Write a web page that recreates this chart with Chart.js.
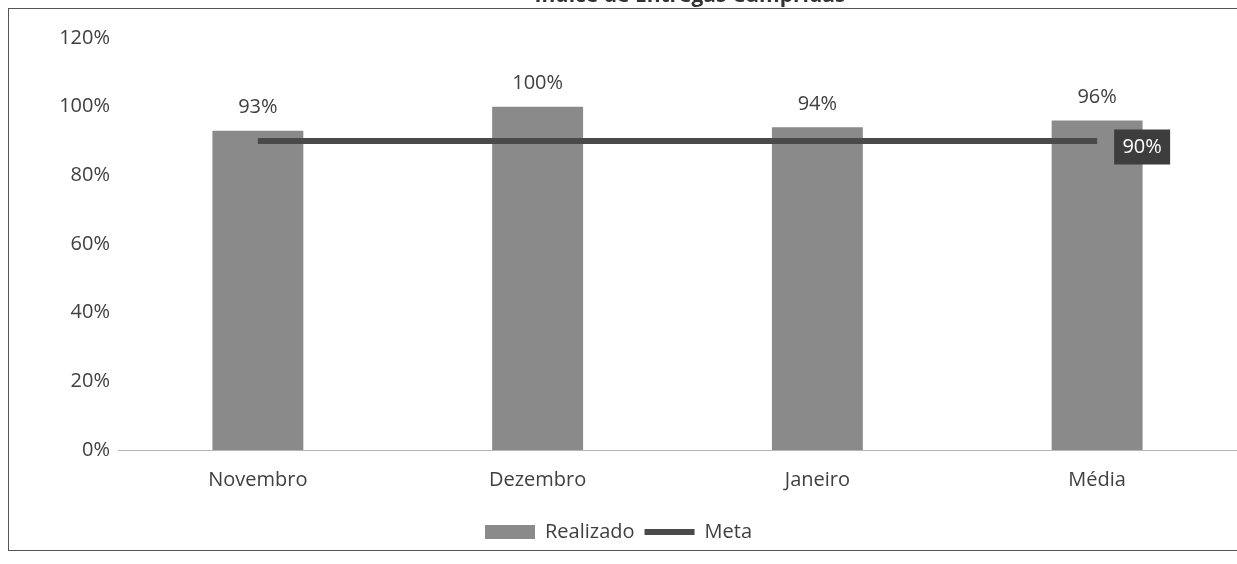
<!DOCTYPE html>
<html>
<head>
<meta charset="utf-8">
<script src="https://cdn.jsdelivr.net/npm/chart.js@4"></script>
<style>
  html, body { margin: 0; padding: 0; background: #fff; }
  #wrap { position: relative; width: 1237px; height: 564px; overflow: hidden; }
  #frame { position: absolute; left: 8px; top: 8px; width: 1240px; height: 543px; border: 1px solid #555; border-right: none; box-sizing: border-box; pointer-events: none; }
</style>
</head>
<body>
<div id="wrap">
  <canvas id="myChart" width="1237" height="564"></canvas>
  <div id="frame"></div>
</div>
<script>
const ctx = document.getElementById('myChart').getContext('2d');

// Dados do gráfico
const categorias = ['Novembro', 'Dezembro', 'Janeiro', 'Média'];
const realizado = [0.93, 1.00, 0.94, 0.96];
const meta = [0.90, 0.90, 0.90, 0.90];
const tituloGrafico = 'Índice de Entregas Cumpridas';

const fonte = "'Open Sans', 'DejaVu Sans', sans-serif";
const corTexto = '#404040';

// Título (cortado no topo, como no original)
const tituloPlugin = {
    id: 'tituloCortado',
    afterDraw(chart) {
        const c = chart.ctx;
        c.save();
        c.font = 'bold 21px ' + fonte;
        c.fillStyle = '#333';
        c.textAlign = 'center';
        c.textBaseline = 'alphabetic';
        c.fillText(tituloGrafico, 690, 2);
        c.restore();
    }
};

// Rótulos de valores
const rotulosPlugin = {
    id: 'rotulos',
    afterDatasetsDraw(chart) {
        const c = chart.ctx;
        c.save();
        c.font = '20px ' + fonte;
        c.textAlign = 'center';
        c.textBaseline = 'middle';

        // barras
        const barras = chart.getDatasetMeta(0).data;
        barras.forEach((bar, i) => {
            c.fillStyle = corTexto;
            c.fillText(Math.round(realizado[i] * 100) + '%', bar.x, bar.y - 23);
        });

        // último ponto da meta
        const pontos = chart.getDatasetMeta(1).data;
        const ultimo = pontos[pontos.length - 1];
        const txt = Math.round(meta[meta.length - 1] * 100) + '%';
        const bx = ultimo.x + 17, bw = 56, bh = 35;
        c.fillStyle = '#3d3d3d';
        c.fillRect(bx, ultimo.y - bh / 2 + 6, bw, bh);
        c.fillStyle = '#fff';
        c.fillText(txt, bx + bw / 2, ultimo.y + 6);
        c.restore();
    }
};

new Chart(ctx, {
    type: 'bar',
    data: {
        labels: categorias,
        datasets: [{
            type: 'bar',
            label: 'Realizado',
            data: realizado,
            backgroundColor: '#8a8a8a',
            borderWidth: 0,
            pointStyle: 'rect',
            barPercentage: 0.325,
            categoryPercentage: 1,
            order: 2
        }, {
            type: 'line',
            label: 'Meta',
            data: meta,
            borderColor: '#4a4a4a',
            backgroundColor: '#4a4a4a',
            borderWidth: 6,
            pointRadius: 0,
            pointStyle: 'line',
            fill: false,
            order: 1
        }]
    },
    options: {
        responsive: false,
        animation: false,
        layout: { padding: { top: 38, right: 0, bottom: 12, left: 0 } },
        scales: {
            x: {
                grid: { display: false, drawTicks: false },
                border: { display: true, color: '#b5b5b5', dash: [2, 2], width: 1 },
                ticks: { color: corTexto, font: { family: fonte, size: 20 }, padding: 18 },
                afterFit(axis) { axis.height = 62; }
            },
            y: {
                min: 0,
                max: 1.2,
                grid: { display: false, drawTicks: false },
                border: { display: false },
                ticks: {
                    stepSize: 0.2,
                    color: corTexto,
                    font: { family: fonte, size: 20 },
                    padding: 8,
                    callback: v => Math.round(v * 100) + '%'
                },
                afterFit(axis) { axis.width = 118; }
            }
        },
        plugins: {
            legend: {
                position: 'bottom',
                labels: {
                    usePointStyle: true,
                    pointStyleWidth: 50,
                    boxHeight: 14,
                    color: corTexto,
                    font: { family: fonte, size: 20 },
                    padding: 10,
                    sort: (a, b) => a.datasetIndex - b.datasetIndex
                }
            },
            tooltip: { enabled: false },
            title: { display: false }
        }
    },
    plugins: [tituloPlugin, rotulosPlugin]
});
</script>
</body>
</html>
